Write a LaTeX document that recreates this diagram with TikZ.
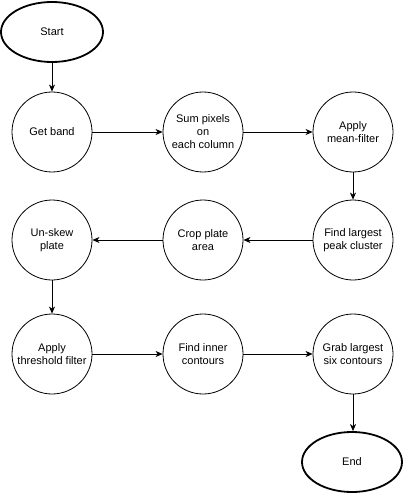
\documentclass[tikz,border=0pt]{standalone}
\usepackage{fontspec}
\setmainfont{Liberation Sans}
\usetikzlibrary{arrows.meta,shapes.geometric}
\begin{document}
\begin{tikzpicture}[x=1pt,y=-1pt,
  stepcirc/.style={circle,draw,line width=0.8pt,minimum size=80pt,inner sep=0pt,align=center,font=\fontsize{11}{13}\selectfont},
  terminal/.style={ellipse,draw,line width=1.8pt,minimum width=102pt,minimum height=60pt,inner sep=0pt,font=\fontsize{11}{13}\selectfont},
  conn/.style={line width=0.8pt,-{Stealth[length=7pt,width=6pt,inset=2pt]}}]
\useasboundingbox (0,0) rectangle (404,497);
\node[terminal] (start) at (52,32) {Start};
\node[stepcirc] (band) at (52,132) {Get band};
\node[stepcirc] (sum) at (203,132) {Sum pixels\\on\\each column};
\node[stepcirc] (mean) at (353,132) {Apply\\mean-filter};
\node[stepcirc] (peak) at (353,240) {Find largest\\peak cluster};
\node[stepcirc] (crop) at (203,240) {Crop plate\\area};
\node[stepcirc] (unskew) at (52,240) {Un-skew\\plate};
\node[stepcirc] (thresh) at (52,354) {Apply\\threshold filter};
\node[stepcirc] (inner) at (203,354) {Find inner\\contours};
\node[stepcirc] (grab) at (353,354) {Grab largest\\six contours};
\node[terminal,minimum width=100pt] (end) at (352,462) {End};
\draw[conn] (start) -- (band);
\draw[conn] (band) -- (sum);
\draw[conn] (sum) -- (mean);
\draw[conn] (mean) -- (peak);
\draw[conn] (peak) -- (crop);
\draw[conn] (crop) -- (unskew);
\draw[conn] (unskew) -- (thresh);
\draw[conn] (thresh) -- (inner);
\draw[conn] (inner) -- (grab);
\draw[conn] (grab.south) -- (grab.south |- end.north);
\end{tikzpicture}
\end{document}
